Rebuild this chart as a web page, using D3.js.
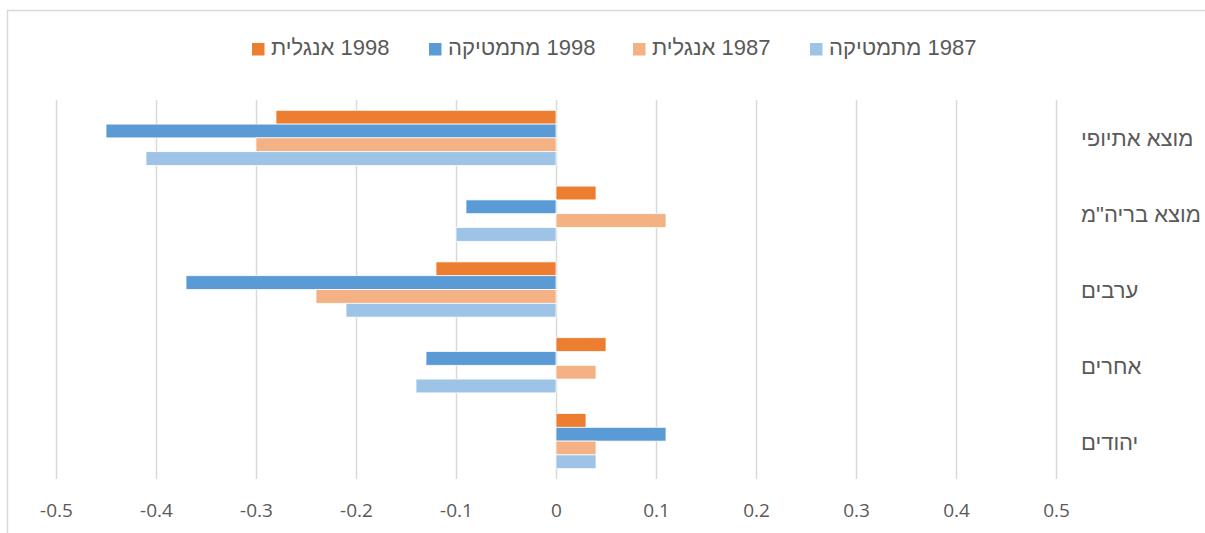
<!DOCTYPE html>
<html>
<head>
<meta charset="utf-8">
<script src="https://cdn.jsdelivr.net/npm/d3@7"></script>
<style>
  body { margin: 0; background: #fff; }
  svg { display: block; }
</style>
</head>
<body>
<div class="chart"></div>
<script>
var width = 1205;
var height = 533;

// data
var categories = ['מוצא אתיופי', 'מוצא בריה"מ', 'ערבים', 'אחרים', 'יהודים'];
var seriesNames = ['1998 אנגלית', '1998 מתמטיקה', '1987 אנגלית', '1987 מתמטיקה'];
var english1998 = [-0.28, 0.04, -0.12, 0.05, 0.03];
var math1998 = [-0.45, -0.09, -0.37, -0.13, 0.11];
var english1987 = [-0.30, 0.11, -0.24, 0.04, 0.04];
var math1987 = [-0.41, -0.10, -0.21, -0.14, 0.04];
var tickValues = [-0.5, -0.4, -0.3, -0.2, -0.1, 0, 0.1, 0.2, 0.3, 0.4, 0.5];
var tickLabels = ['-0.5', '-0.4', '-0.3', '-0.2', '-0.1', '0', '0.1', '0.2', '0.3', '0.4', '0.5'];
var colors = ['#ED7D31', '#5B9BD5', '#F4B183', '#9DC3E6'];
// legend reads right to left
var legendOrder = [3, 2, 1, 0];

var seriesValues = [english1998, math1998, english1987, math1987];

var svg = d3.select('.chart').append('svg').attr('width', width).attr('height', height);

// chart area border (cut by the window)
svg.append('path')
  .attr('d', 'M7.5,' + (height + 5) + 'V10.5H' + (width + 5))
  .attr('fill', 'none')
  .attr('stroke', '#d9d9d9')
  .attr('stroke-width', 1.5);

var plotTop = 100, plotBottom = 479;

var x = d3.scaleLinear().domain([-0.5, 0.5]).range([56, 1056]);
var y = d3.scaleBand().domain(categories).range([plotTop, plotBottom])
  .paddingInner(0.272).paddingOuter(0.136);
var ys = d3.scaleBand().domain(d3.range(seriesNames.length)).range([0, y.bandwidth()]);

// gridlines
svg.append('g').selectAll('line')
  .data(tickValues).enter()
  .append('line')
  .attr('x1', function(d){ return Math.round(x(d)) + 0.5; })
  .attr('x2', function(d){ return Math.round(x(d)) + 0.5; })
  .attr('y1', plotTop)
  .attr('y2', plotBottom)
  .attr('stroke', '#d9d9d9')
  .attr('stroke-width', 1.5);

// bars
seriesValues.forEach(function(vals, s){
  svg.append('g').selectAll('rect')
    .data(vals).enter()
    .append('rect')
    .attr('x', function(d){ return Math.min(x(0), x(d)); })
    .attr('width', function(d){ return Math.abs(x(d) - x(0)); })
    .attr('y', function(d, i){ return y(categories[i]) + ys(s); })
    .attr('height', ys.bandwidth())
    .attr('fill', colors[s])
    .attr('stroke', '#fff')
    .attr('stroke-width', 0.75);
});

// x axis labels
var xAxis = d3.axisBottom(x)
  .tickValues(tickValues)
  .tickSize(0)
  .tickPadding(0)
  .tickFormat(function(d, i){ return tickLabels[i]; });
var gx = svg.append('g').attr('transform', 'translate(0,' + 503 + ')').call(xAxis);
gx.select('.domain').remove();
gx.selectAll('text')
  .attr('fill', '#595959')
  .style('font-family', '"Open Sans", sans-serif')
  .style('font-size', '19px');

// category labels on the right
svg.append('g').selectAll('text')
  .data(categories).enter()
  .append('text')
  .attr('x', 1081)
  .attr('y', function(d){ return y(d) + y.bandwidth() / 2 + 8.5; })
  .attr('direction', 'rtl')
  .attr('text-anchor', 'end')
  .attr('fill', '#595959')
  .style('font-family', '"Liberation Sans", Arial, sans-serif')
  .style('font-size', '22px')
  .text(function(d){ return d; });

// legend
var legendX = [810, 633, 429, 252];
var legend = svg.append('g').selectAll('g')
  .data(legendOrder).enter()
  .append('g')
  .attr('transform', function(d, i){ return 'translate(' + legendX[i] + ',0)'; });
legend.append('rect')
  .attr('y', 43)
  .attr('width', 12.5)
  .attr('height', 12.5)
  .attr('fill', function(d){ return colors[d]; });
legend.append('text')
  .attr('x', 19)
  .attr('y', 54.5)
  .attr('direction', 'rtl')
  .attr('text-anchor', 'end')
  .attr('fill', '#595959')
  .style('font-family', '"Liberation Sans", Arial, sans-serif')
  .style('font-size', '22px')
  .text(function(d){ return seriesNames[d]; });
</script>
</body>
</html>
